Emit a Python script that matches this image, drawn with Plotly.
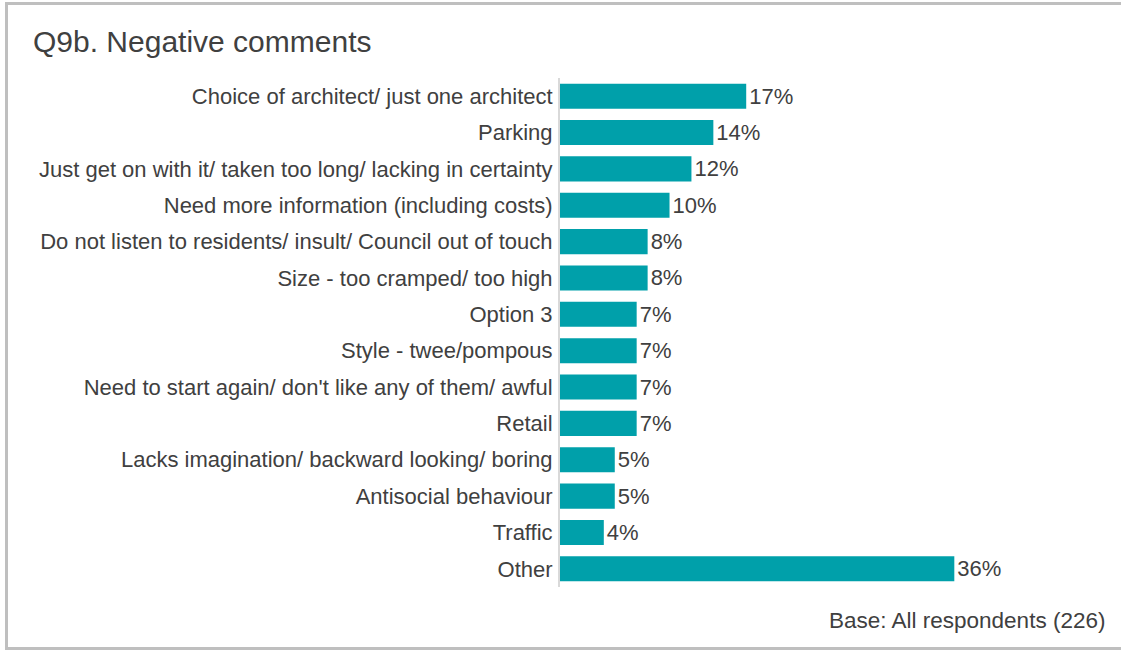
import plotly.graph_objects as go

categories = [
    "Choice of architect/ just one architect",
    "Parking",
    "Just get on with it/ taken too long/ lacking in certainty",
    "Need more information (including costs)",
    "Do not listen to residents/ insult/ Council out of touch",
    "Size - too cramped/ too high",
    "Option 3",
    "Style - twee/pompous",
    "Need to start again/ don't like any of them/ awful",
    "Retail",
    "Lacks imagination/ backward looking/ boring",
    "Antisocial behaviour",
    "Traffic",
    "Other",
]
values = [17, 14, 12, 10, 8, 8, 7, 7, 7, 7, 5, 5, 4, 36]
value_labels = [f"{v}%" for v in values]

FONT = "Liberation Sans, Arial, sans-serif"
TEXT = "#404040"
BAR = "#00A0AA"

W, H = 1121, 650
ML, MR, MT, MB = 560, 21, 78, 63

fig = go.Figure(
    go.Bar(
        x=values,
        y=categories,
        orientation="h",
        marker=dict(color=BAR, line=dict(width=0)),
        text=value_labels,
        textposition="outside",
        textfont=dict(family=FONT, size=22, color=TEXT),
        cliponaxis=False,
        hoverinfo="skip",
    )
)

fig.update_layout(
    width=W,
    height=H,
    margin=dict(l=ML, r=MR, t=MT, b=MB),
    paper_bgcolor="white",
    plot_bgcolor="white",
    bargap=0.31,
    showlegend=False,
    font=dict(family=FONT, color=TEXT, size=22),
    xaxis=dict(range=[0, 49.3], visible=False, fixedrange=True),
    yaxis=dict(
        autorange="reversed",
        showline=True,
        linecolor="#d9d9d9",
        linewidth=2,
        showgrid=False,
        ticks="",
        ticklabelstandoff=1,
        tickfont=dict(family=FONT, size=22, color=TEXT),
        fixedrange=True,
    ),
)

plot_w = W - ML - MR
plot_h = H - MT - MB


def px(x):
    return (x - ML) / plot_w


def py(y):
    return (H - MB - y) / plot_h


border = dict(color="#bfbfbf", width=3)
fig.add_shape(type="line", xref="paper", yref="paper", x0=px(5), x1=px(1125), y0=py(3.5), y1=py(3.5), line=border)
fig.add_shape(type="line", xref="paper", yref="paper", x0=px(6.5), x1=px(6.5), y0=py(2), y1=py(648.5), line=border)
fig.add_shape(type="line", xref="paper", yref="paper", x0=px(5), x1=px(1125), y0=py(648.5), y1=py(648.5), line=border)

fig.add_annotation(
    text="Q9b. Negative comments",
    xref="paper", yref="paper",
    x=px(31), y=py(42),
    xanchor="left", yanchor="middle",
    showarrow=False,
    font=dict(family=FONT, size=30, color=TEXT),
)
fig.add_annotation(
    text="Base: All respondents (226)",
    xref="paper", yref="paper",
    x=px(1107), y=py(620),
    xanchor="right", yanchor="middle",
    showarrow=False,
    font=dict(family=FONT, size=22.5, color=TEXT),
)

fig.write_html(
    "out.html",
    config={"displayModeBar": False},
    post_script="document.body.style.margin='0';document.body.style.overflow='hidden';",
)
